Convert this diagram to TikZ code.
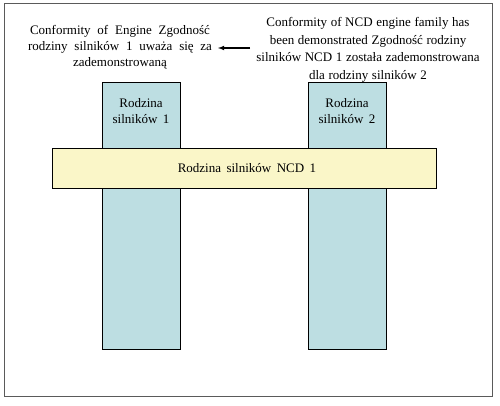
\documentclass[tikz,border=0pt]{standalone}
\usepackage{fontspec}
\setmainfont{Liberation Serif}
\definecolor{boxblue}{RGB}{189,222,226}
\definecolor{boxyellow}{RGB}{250,246,200}
\definecolor{framegray}{RGB}{90,90,90}
\newcommand{\fontA}{\fontsize{13}{16}\selectfont\spaceskip=0.42em\relax}
\newcommand{\fontL}{\fontsize{13}{16}\selectfont\spaceskip=0.52em\relax}
\newcommand{\fontR}{\fontsize{13}{17.5}\selectfont\spaceskip=0.28em\relax}
\begin{document}
\begin{tikzpicture}[x=1pt,y=-1pt,
  fam/.style={draw=black,line width=0.9pt,fill=boxblue},
  ncd/.style={draw=black,line width=0.9pt,fill=boxyellow},
  lbl/.style={align=center,font=\fontA,inner sep=0pt}]
\useasboundingbox (0,0) rectangle (500,406);
\draw[framegray,line width=1pt] (4,4) rectangle (492,396);
\node[fam,minimum width=78pt,minimum height=267pt,anchor=north west,inner sep=0pt] (f1) at (102,82) {};
\node[fam,minimum width=78pt,minimum height=267pt,anchor=north west,inner sep=0pt] (f2) at (308,82) {};
\node[ncd,minimum width=384pt,minimum height=40pt,anchor=north west,inner sep=0pt] (n1) at (52,148) {};
\node[lbl] (t1) at (141,111) {Rodzina\\silników 1};
\node[lbl] (t2) at (347,111) {Rodzina\\silników 2};
\node[lbl] (tn) at (247,168) {Rodzina silników NCD 1};
\node[lbl,font=\fontL] (left) at (120,47) {Conformity of Engine Zgodność\\rodziny silników 1 uważa się za\\zademonstrowaną};
\node[lbl,font=\fontR] (right) at (368,50) {Conformity of NCD engine family has\\been demonstrated Zgodność rodziny\\silników NCD 1 została zademonstrowana\\dla rodziny silników 2};
\coordinate (as) at (250,48);
\coordinate (ae) at (218,48);
\draw[-latex,line width=1.1pt] (as) -- (ae);
\end{tikzpicture}
\end{document}
